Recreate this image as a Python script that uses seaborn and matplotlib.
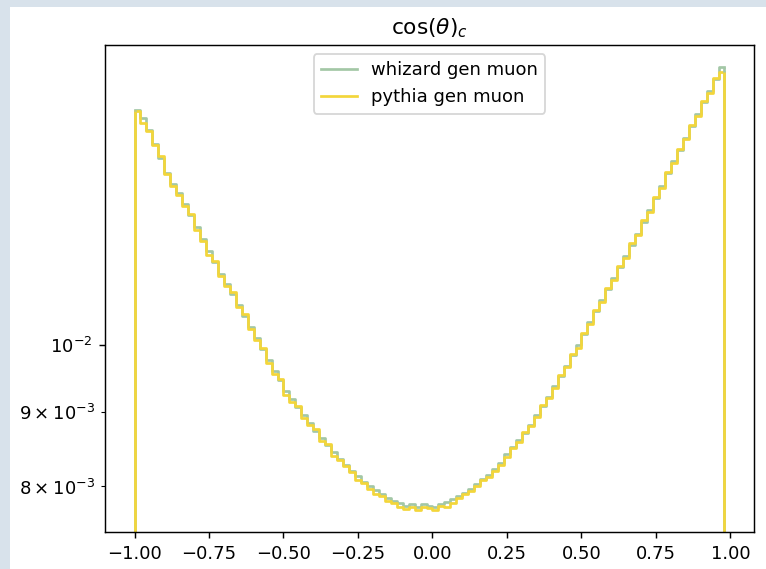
import numpy as np
import pandas as pd
import matplotlib
matplotlib.use('Agg')
from matplotlib import pyplot as plt
from matplotlib.patches import Rectangle
import seaborn as sns

# histogram bin edges: 99 bins of width 0.02 from -1 up to 0.98
bin_edges = np.linspace(-1.0, 0.98, 100)
bin_centers = bin_edges[:-1] + 0.01

whizard_vals = [
    0.01450, 0.01432, 0.01405, 0.01375, 0.01345, 0.01312, 0.01290, 0.01272, 0.01250, 0.01228,
    0.01205, 0.01182, 0.01160, 0.01140, 0.01120, 0.01102, 0.01084, 0.01066, 0.01048, 0.01030,
    0.01012, 0.00994, 0.00977, 0.00960, 0.00946, 0.00930, 0.00918, 0.00907, 0.00896, 0.00885,
    0.00874, 0.00864, 0.00854, 0.00845, 0.00836, 0.00828, 0.00820, 0.00813, 0.00806, 0.00800,
    0.00795, 0.00790, 0.00786, 0.00782, 0.00779, 0.00776, 0.00778, 0.00775, 0.00778, 0.00776,
    0.00774, 0.00778, 0.00781, 0.00784, 0.00788, 0.00792, 0.00797, 0.00803, 0.00809, 0.00815,
    0.00822, 0.00830, 0.00842, 0.00852, 0.00861, 0.00870, 0.00882, 0.00895, 0.00908, 0.00922,
    0.00937, 0.00952, 0.00968, 0.00984, 0.01000, 0.01018, 0.01037, 0.01055, 0.01074, 0.01093,
    0.01112, 0.01131, 0.01151, 0.01172, 0.01193, 0.01215, 0.01238, 0.01262, 0.01287, 0.01312,
    0.01337, 0.01362, 0.01388, 0.01414, 0.01441, 0.01468, 0.01495, 0.01522, 0.01552,
]

pythia_vals = [
    0.01448, 0.01420, 0.01402, 0.01372, 0.01348, 0.01310, 0.01287, 0.01269, 0.01246, 0.01230,
    0.01199, 0.01179, 0.01153, 0.01142, 0.01115, 0.01099, 0.01087, 0.01062, 0.01051, 0.01026,
    0.01009, 0.00996, 0.00973, 0.00955, 0.00948, 0.00925, 0.00915, 0.00909, 0.00892, 0.00882,
    0.00876, 0.00860, 0.00856, 0.00840, 0.00834, 0.00826, 0.00818, 0.00808, 0.00804, 0.00797,
    0.00790, 0.00788, 0.00782, 0.00780, 0.00774, 0.00772, 0.00774, 0.00771, 0.00775, 0.00773,
    0.00771, 0.00776, 0.00775, 0.00780, 0.00786, 0.00790, 0.00794, 0.00800, 0.00808, 0.00812,
    0.00820, 0.00828, 0.00838, 0.00850, 0.00858, 0.00872, 0.00880, 0.00893, 0.00910, 0.00920,
    0.00934, 0.00954, 0.00966, 0.00986, 0.00996, 0.01020, 0.01034, 0.01058, 0.01071, 0.01095,
    0.01109, 0.01133, 0.01148, 0.01175, 0.01190, 0.01218, 0.01235, 0.01265, 0.01283, 0.01315,
    0.01333, 0.01364, 0.01385, 0.01416, 0.01437, 0.01470, 0.01491, 0.01525, 0.01540,
]

labels = ['whizard gen muon', 'pythia gen muon']
colors = ['#a3c7a6', '#f3d63a']

df = pd.DataFrame({'x': bin_centers, 'whizard': whizard_vals, 'pythia': pythia_vals})

fig = plt.figure(figsize=(766 / 130, 569 / 130), dpi=130, facecolor='#d8e2eb')
# white canvas inside the light frame of the screenshot
fig.patches.append(Rectangle((10 / 766, 0), 1, 1 - 7 / 569, transform=fig.transFigure,
                             facecolor='white', edgecolor='none', zorder=-1))
ax = fig.add_axes([105 / 766, 37 / 569, 649 / 766, 487 / 569])

for col, lab, c in zip(['whizard', 'pythia'], labels, colors):
    sns.histplot(data=df, x='x', weights=col, bins=bin_edges.tolist(), element='step',
                 fill=False, color=c, linewidth=1.5, label=lab, ax=ax)

ax.set_yscale('log')
ax.relim()
ax.autoscale_view()
ymin, ymax = ax.get_ylim()
# vertical drops at the outer bin edges, like a matplotlib step histogram
for col, c in zip(['whizard', 'pythia'], colors):
    vals = df[col].values
    ax.vlines([bin_edges[0], bin_edges[-1]], ymin, [vals[0], vals[-1]],
              color=c, linewidth=1.5)
ax.set_ylim(ymin, ymax)

ax.set_xlabel('')
ax.set_ylabel('')
ax.set_title(r'$\cos(\theta)_c$')
ax.legend(loc='upper center')

fig.savefig('out.png', dpi=130, facecolor=fig.get_facecolor())
